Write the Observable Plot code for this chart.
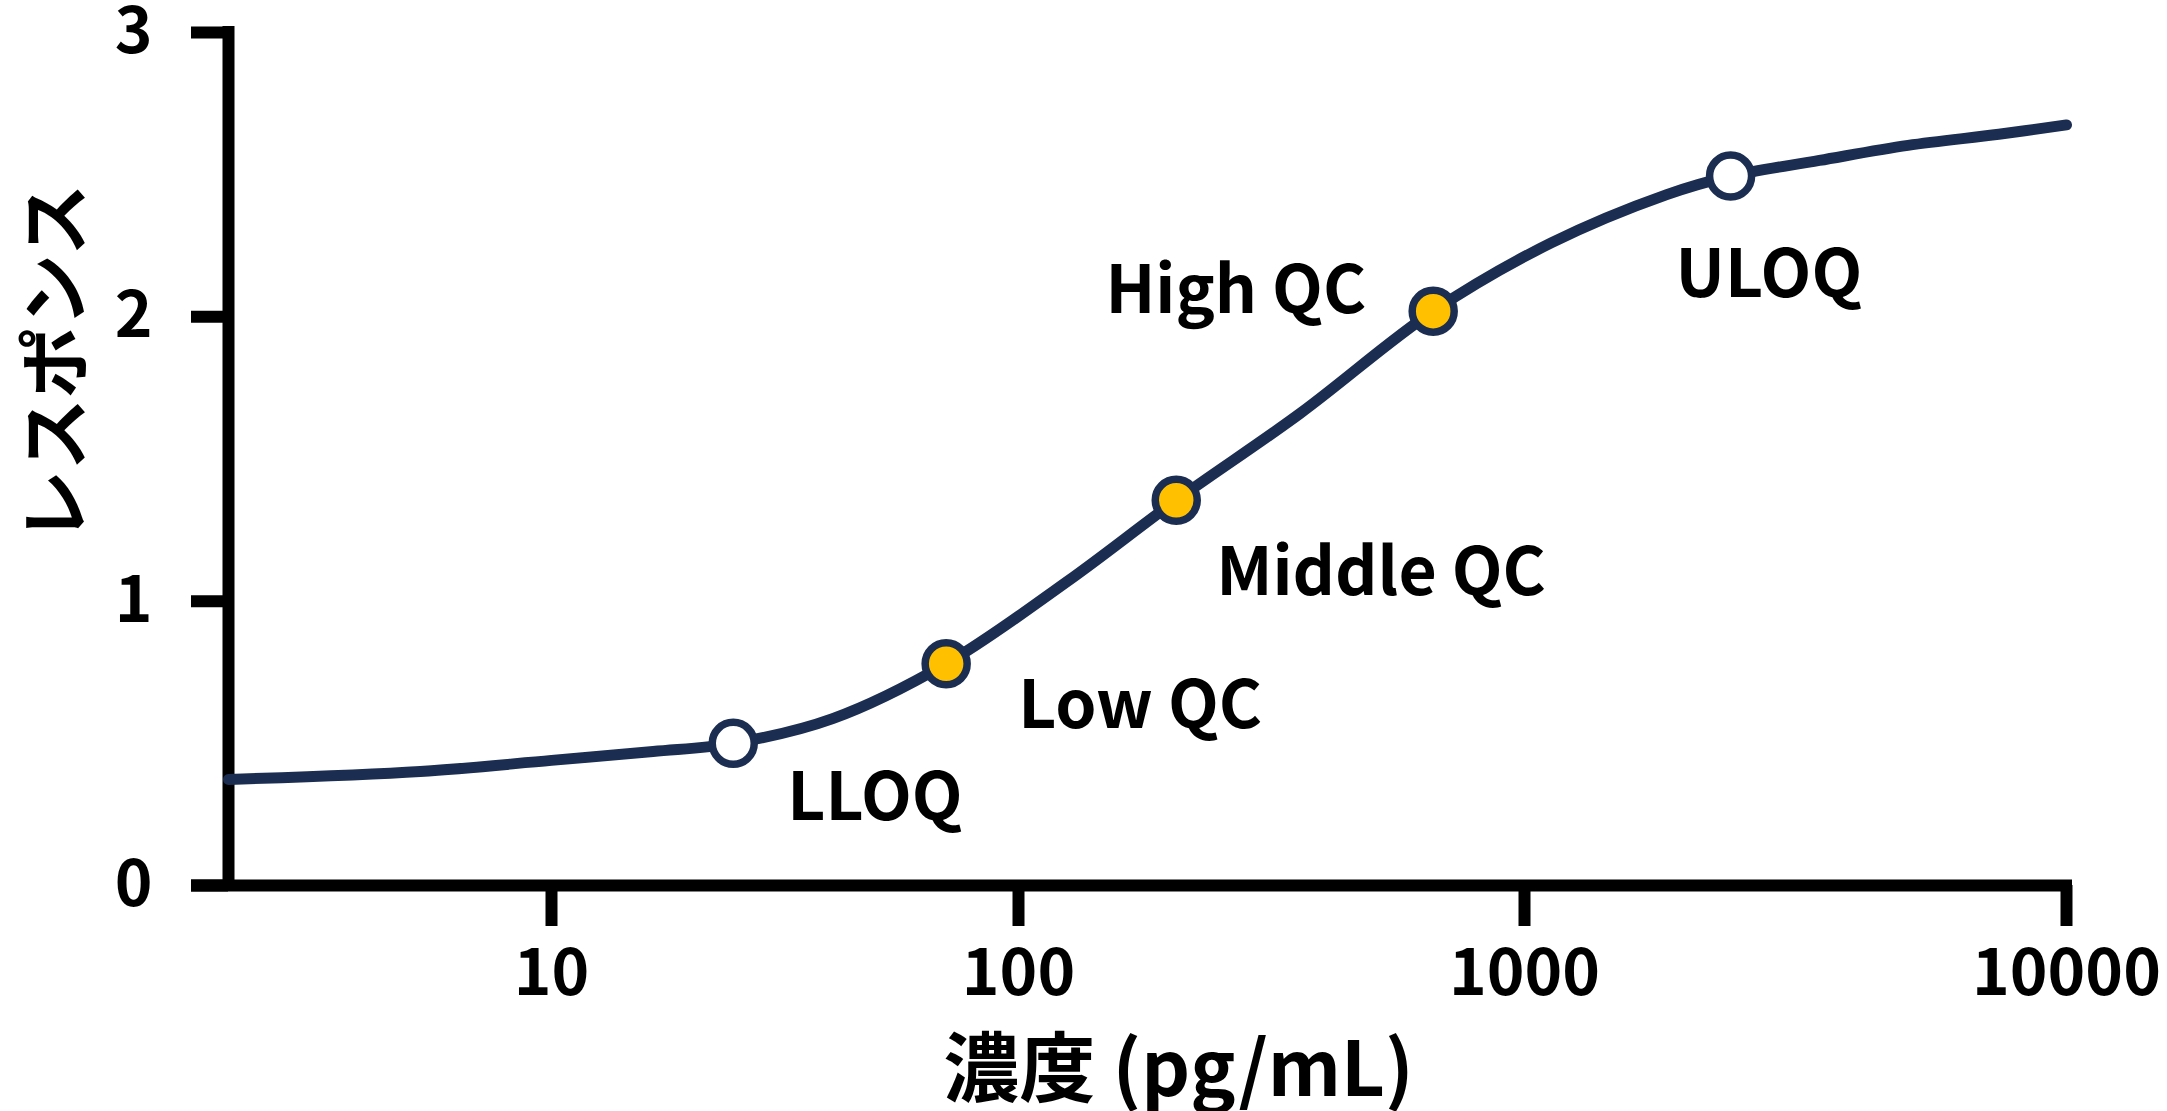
<!DOCTYPE html>
<html lang="ja">
<head>
<meta charset="utf-8">
<title>検量線</title>
<script src="https://cdn.jsdelivr.net/npm/d3@7"></script>
<script src="https://cdn.jsdelivr.net/npm/@observablehq/plot@0.6"></script>
<style>
  html, body { margin: 0; padding: 0; background: #ffffff; }
  #chart svg { display: block; }
</style>
</head>
<body>
<div id="chart"></div>
<script>
// Calibration curve: response vs. concentration (pg/mL)
const curveConc = [2, 5.2, 10, 16.5, 24.5, 40, 70, 125, 205, 360, 660, 1120, 1830, 2400, 3500, 5100, 7500, 10000];
const curveResp = [0.373, 0.401, 0.44, 0.471, 0.5, 0.587, 0.78, 1.07, 1.355, 1.66, 2.02, 2.26, 2.43, 2.495, 2.55, 2.603, 2.642, 2.675];

// Reference points on the curve
const pointNames = ["LLOQ", "Low QC", "Middle QC", "High QC", "ULOQ"];
const pointKinds = ["LOQ", "QC", "QC", "QC", "LOQ"];
const pointConc = [24.5, 70, 205, 660, 2400];
const pointResp = [0.5, 0.78, 1.355, 2.02, 2.495];

// Axis ticks and titles
const xTicks = [10, 100, 1000, 10000];
const yTicks = [0, 1, 2, 3];
const xTitle = "濃度 (pg/mL)";
const yTitle = "レスポンス";

// Styling
const navy = "#1b2d51";
const gold = "#ffc000";
const font = "'Noto Sans CJK JP', 'Noto Sans', sans-serif";
const labelOffsets = {
  "LLOQ": {dx: 54, dy: 77, textAnchor: "start"},
  "Low QC": {dx: 72, dy: 64, textAnchor: "start"},
  "Middle QC": {dx: 40, dy: 95, textAnchor: "start"},
  "High QC": {dx: -67, dy: 2, textAnchor: "end"},
  "ULOQ": {dx: -55, dy: 121, textAnchor: "start"}
};

const curve = curveConc.map((c, i) => ({conc: c, resp: curveResp[i]}));
const points = pointNames.map((name, i) => ({name, kind: pointKinds[i], conc: pointConc[i], resp: pointResp[i]}));

const labelMarks = points.map(p => Plot.text([p], {
  x: "conc", y: "resp", text: "name",
  lineAnchor: "bottom", fontSize: 66, fontWeight: 700, fill: "#000",
  ...labelOffsets[p.name]
}));

const chart = Plot.plot({
  width: 2167,
  height: 1111,
  marginLeft: 228,
  marginRight: 101,
  marginTop: 32,
  marginBottom: 226,
  style: {fontFamily: font, fontWeight: 700, background: "#ffffff", color: "#000"},
  x: {type: "log", domain: [2, 10, 100, 1000, 10000], range: [228, 551, 1018, 1524, 2066]},
  y: {domain: [0, 3]},
  color: {domain: ["LOQ", "QC"], range: ["#ffffff", gold]},
  marks: [
    Plot.ruleY([0], {stroke: "#000", strokeWidth: 12, insetLeft: -37, insetRight: -6}),
    Plot.ruleX([2], {y1: 0, y2: 3, stroke: "#000", strokeWidth: 12, strokeLinecap: "square"}),
    Plot.axisX({ticks: xTicks, tickFormat: d => String(d), tickSize: 41, tickPadding: 23,
      strokeWidth: 12, fontSize: 64, fontWeight: 700, label: null}),
    Plot.axisY({ticks: yTicks, tickFormat: d => String(d), tickSize: 37, tickPadding: 39,
      strokeWidth: 12, fontSize: 64, fontWeight: 700, label: null}),
    Plot.line(curve, {x: "conc", y: "resp", stroke: navy, strokeWidth: 11, curve: "catmull-rom"}),
    Plot.dot(points, {x: "conc", y: "resp", r: 21, fill: "kind", stroke: navy, strokeWidth: 7.5}),
    ...labelMarks,
    Plot.text([xTitle], {frameAnchor: "bottom", dx: 31, dy: 210, lineAnchor: "bottom",
      textAnchor: "middle", fontSize: 76, fontWeight: 700, fill: "#000"}),
    Plot.text([yTitle], {frameAnchor: "left", rotate: -90, dx: -171, dy: -96,
      textAnchor: "middle", lineAnchor: "middle", fontSize: 72, fontWeight: 700, fill: "#000"})
  ]
});

document.getElementById("chart").appendChild(chart);
</script>
</body>
</html>
